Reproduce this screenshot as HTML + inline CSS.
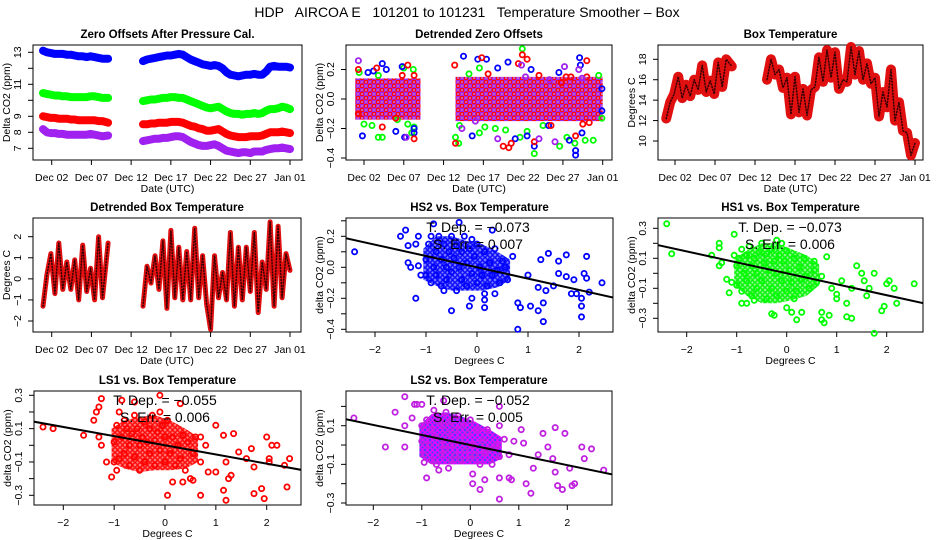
<!DOCTYPE html>
<html><head><meta charset="utf-8"><style>
html,body{margin:0;padding:0;background:#fff;}
svg{display:block;font-family:"Liberation Sans",Arial,sans-serif;}
</style></head><body>
<svg id="chart" width="936" height="540" viewBox="0 0 936 540" xmlns="http://www.w3.org/2000/svg">
<defs>
<pattern id="pat-mixed" width="8" height="8" patternUnits="userSpaceOnUse">
<rect width="8" height="8" fill="#d060c0"/>
<circle cx="2" cy="2" r="1.8" fill="none" stroke="#a020f0" stroke-width="1.3"/>
<circle cx="6" cy="2" r="1.8" fill="none" stroke="#ff0000" stroke-width="1.3"/>
<circle cx="2" cy="6" r="1.8" fill="none" stroke="#ff0000" stroke-width="1.3"/>
<circle cx="6" cy="6" r="1.8" fill="none" stroke="#a020f0" stroke-width="1.3"/>
</pattern>
<pattern id="pat-blue" width="5" height="5" patternUnits="userSpaceOnUse"><rect width="5" height="5" fill="#8080ff"/><circle cx="2.5" cy="2.5" r="1.8" fill="none" stroke="#0000ff" stroke-width="1.3"/></pattern>
<pattern id="pat-green" width="5" height="5" patternUnits="userSpaceOnUse"><rect width="5" height="5" fill="#90ff90"/><circle cx="2.5" cy="2.5" r="1.8" fill="none" stroke="#00ee00" stroke-width="1.3"/></pattern>
<pattern id="pat-red" width="5" height="5" patternUnits="userSpaceOnUse"><rect width="5" height="5" fill="#ff8080"/><circle cx="2.5" cy="2.5" r="1.8" fill="none" stroke="#ff0000" stroke-width="1.3"/></pattern>
<pattern id="pat-purple" width="5" height="5" patternUnits="userSpaceOnUse"><rect width="5" height="5" fill="#4040ff"/><circle cx="2.5" cy="2.5" r="1.8" fill="none" stroke="#ff00ff" stroke-width="1.3"/></pattern>
</defs>
<rect x="0" y="0" width="936" height="540" fill="#fff"/>
<text x="467" y="17" font-size="14" text-anchor="middle" xml:space="preserve">HDP   AIRCOA E   101201 to 101231   Temperature Smoother – Box</text>
</svg>
<script>
// ---------- DATA ----------
const seg1Days = [0.9,1.4,1.9,2.4,2.9,3.4,3.9,4.4,4.9,5.4,5.9,6.4,6.9,7.4,7.9,8.4,9.1];
const seg2Days = [13.5,14,14.5,15,15.5,16,16.5,17,17.5,18,18.5,19,19.5,20,20.5,21,21.5,22,22.5,23,23.5,24,24.5,25,25.5,26,26.5,27,27.5,28,28.5,29,29.5,30,30.5,31,31.5,32];
const blueSeg1 = [13.1,13.0,12.95,12.9,12.9,12.9,12.85,12.85,12.8,12.75,12.75,12.7,12.75,12.7,12.65,12.6,12.6];
const blueSeg2 = [12.45,12.55,12.6,12.65,12.7,12.75,12.8,12.8,12.85,12.9,12.85,12.7,12.55,12.45,12.35,12.25,12.2,12.15,12.2,12.15,12.0,11.75,11.6,11.55,11.5,11.55,11.6,11.6,11.65,11.6,11.6,11.8,12.1,12.15,12.1,12.1,12.1,12.05];
const greenSeg1 = [10.45,10.4,10.35,10.3,10.3,10.25,10.25,10.2,10.2,10.2,10.2,10.2,10.25,10.25,10.2,10.15,10.15];
const greenSeg2 = [9.95,10.0,10.05,10.05,10.1,10.15,10.15,10.2,10.2,10.15,10.15,10.05,9.95,9.85,9.75,9.65,9.55,9.5,9.55,9.6,9.45,9.3,9.2,9.15,9.15,9.1,9.15,9.15,9.2,9.15,9.2,9.35,9.45,9.45,9.5,9.6,9.55,9.45];
const redSeg1 = [9.0,8.95,8.9,8.9,8.85,8.85,8.85,8.8,8.8,8.75,8.75,8.75,8.75,8.75,8.7,8.7,8.6];
const redSeg2 = [8.5,8.5,8.55,8.55,8.6,8.6,8.6,8.65,8.65,8.65,8.6,8.5,8.4,8.35,8.25,8.2,8.1,8.1,8.15,8.2,8.05,7.9,7.8,7.75,7.7,7.7,7.7,7.75,7.75,7.75,7.8,7.9,8.0,8.0,8.0,8.05,8.0,7.95];
const purpleSeg1 = [8.2,8.0,7.95,7.95,7.9,7.9,7.85,7.85,7.85,7.85,7.85,7.85,7.9,7.85,7.8,7.75,7.8];
const purpleSeg2 = [7.45,7.5,7.55,7.6,7.6,7.65,7.65,7.7,7.75,7.75,7.7,7.55,7.4,7.3,7.2,7.15,7.15,7.2,7.25,7.15,7.0,6.85,6.8,6.75,6.7,6.75,6.75,6.7,6.8,6.8,6.8,6.9,6.95,7.0,7.0,7.05,7.0,6.95];

const bandDays = [0.9,9.1,null,13.5,32];
const bandHigh = [0.14,0.14,null,0.15,0.15];
const bandLow = [-0.14,-0.14,null,-0.15,-0.15];
const zdBlue = [[1.8,-0.25],[2.5,0.18],[3.2,0.19],[4.3,0.24],[4.8,0.2],[6.0,-0.22],[6.8,0.22],[7.1,-0.26],[8.3,-0.23],[8.3,-0.2],[14.5,0.29],[15.6,-0.25],[16.3,0.27],[17.4,0.27],[18.8,0.21],[20.1,0.25],[21.0,-0.27],[22.5,-0.25],[23.0,0.2],[23.4,-0.32],[25.2,-0.18],[26.5,0.18],[27.8,-0.28],[28.6,-0.38],[28.6,-0.35],[29.1,0.28],[29.2,0.23],[29.4,-0.23],[31.9,-0.08],[31.9,0.07]];
const zdGreen = [[1.4,0.18],[2.0,-0.17],[3.0,-0.18],[3.8,-0.26],[4.3,-0.26],[3.8,0.16],[6.2,-0.14],[7.0,0.21],[7.5,-0.17],[8.0,-0.23],[8.2,0.2],[8.3,-0.19],[13.5,-0.26],[13.9,-0.3],[14.0,-0.18],[15.2,0.17],[16.5,0.21],[16.5,-0.23],[17.2,-0.19],[18.5,-0.2],[19.8,-0.21],[21.6,-0.26],[21.9,0.34],[22.5,-0.22],[23.4,-0.37],[24.5,-0.18],[26.6,-0.32],[27.5,-0.26],[28.5,-0.3],[29.8,-0.28],[30.8,-0.28],[31.9,-0.13],[31.5,0.16]];
const zdRed = [[1.3,0.2],[1.3,-0.1],[3.6,0.21],[4.3,-0.19],[6.0,-0.13],[6.8,0.16],[7.5,0.23],[8.3,0.16],[8.3,-0.27],[13.4,0.23],[13.5,-0.3],[16.8,0.28],[17.6,0.17],[19.5,-0.32],[20.2,-0.33],[20.5,-0.3],[21.4,0.24],[21.9,0.3],[22.5,0.27],[23.4,-0.29],[24.0,0.16],[25.5,-0.18],[26.8,0.11],[27.4,0.15],[28.0,0.15],[28.6,-0.25],[29.5,-0.17],[30.0,0.26],[30.0,0.15],[30.3,-0.16]];
const zdPurple = [[1.3,0.26],[7.3,-0.26],[14.3,-0.2],[16.0,-0.15],[18.8,-0.27],[21.8,0.23],[24.0,-0.27],[26.0,-0.29],[27.2,0.22],[29.0,0.2],[29.4,0.14],[25.3,0.13],[22.3,0.15]];

const boxTSeg1 = [12.2,13.8,14.6,16.3,14.2,15.5,14.4,16.0,15.0,17.4,14.8,15.9,14.6,17.7,15.3,18.0,17.3];
const boxTSeg2 = [16.0,18.0,16.5,17.0,15.2,16.2,12.6,16.3,12.8,15.1,12.5,15.0,15.3,18.2,15.8,18.9,16.2,18.7,15.1,16.0,15.8,19.2,16.5,18.8,16.0,17.6,15.6,16.2,12.4,14.8,13.3,17.0,12.0,13.8,11.0,10.8,8.6,9.8];
const dtSeg1 = [-1.3,0.2,1.2,-0.7,1.7,-0.5,0.8,-0.5,0.9,-1.0,1.6,-0.6,0.5,-1.0,2.0,-0.9,1.7];
const dtSeg2 = [-1.3,0.6,-0.2,1.1,-0.5,1.8,-1.4,2.3,-0.9,1.5,-1.0,1.3,-1.0,2.4,-0.9,1.1,-1.2,-2.4,1.1,-0.9,0.3,-1.0,2.2,-1.3,1.5,-1.0,1.5,-0.6,2.2,-1.6,0.8,-0.5,2.7,-1.3,2.5,-0.9,1.2,0.4];

const hs2Pts = [[-2.4,0.1],[-1.5,0.2],[-1.4,0.24],[-1.35,0.14],[-1.35,0.03],[-1.3,0.0],[-1.2,-0.2],[-1.15,0.01],[-1.1,-0.05],[-1.15,0.2],[-1.2,0.15],[-0.5,-0.28],[-0.15,-0.25],[-0.1,-0.2],[0.15,-0.26],[0.15,-0.21],[0.35,-0.17],[0.8,-0.4],[0.85,-0.26],[0.8,-0.23],[1.05,-0.25],[1.2,-0.28],[1.3,-0.35],[1.3,-0.23],[1.4,0.09],[1.6,0.04],[1.75,0.08],[1.75,-0.06],[1.6,-0.04],[1.9,-0.08],[1.85,-0.17],[1.95,-0.17],[2.05,-0.25],[2.05,-0.32],[2.05,-0.2],[2.1,-0.04],[2.15,-0.07],[2.15,0.07],[2.2,-0.16],[2.45,-0.1],[1.0,-0.05],[1.2,-0.13],[1.25,0.05],[0.7,0.07],[0.5,0.04],[1.35,-0.15],[1.5,-0.12],[-0.35,0.29],[-0.85,0.28],[0.3,0.24],
[-1,0.05],[-1,-0.05],[-0.95,0.15],[-0.9,-0.1],[-0.85,0.0],[-0.8,0.1],[-0.8,-0.05],[-0.75,0.2],[-0.7,0.05],[-0.7,-0.12],[-0.65,0.15],[-0.6,0.0],[-0.6,-0.08],[-0.55,0.1],[-0.5,0.2],[-0.5,-0.03],[-0.45,0.06],[-0.4,-0.15],[-0.4,0.14],[-0.35,0.0],[-0.3,-0.08],[-0.3,0.1],[-0.25,0.2],[-0.2,0.03],[-0.2,-0.12],[-0.15,0.12],[-0.1,-0.04],[-0.05,0.07],[0,-0.1],[0,0.15],[0.05,0.0],[0.1,-0.05],[0.15,0.1],[0.2,-0.12],[0.25,0.03],[0.3,-0.05],[0.35,0.12],[0.4,-0.02],[0.45,-0.1],[0.55,0.0],[0.6,-0.08],[-0.9,0.2],[-0.65,-0.15],[-0.1,0.18],[0.15,-0.17]];
const hs1Pts = [[-2.4,0.33],[-2.3,0.13],[-1.5,0.12],[-1.35,0.2],[-1.35,0.17],[-1.3,0.07],[-1.35,0.05],[-1.2,-0.04],[-1.15,-0.13],[-1.1,-0.06],[-1.05,0.26],[-1.05,0.12],[-0.9,-0.2],[-0.8,-0.2],[-0.3,-0.27],[-0.25,-0.28],[0.0,-0.23],[0.1,-0.26],[0.2,-0.31],[0.3,-0.26],[0.7,-0.31],[0.75,-0.33],[0.7,-0.26],[0.85,-0.28],[1.2,-0.29],[1.3,-0.3],[1.0,-0.17],[1.2,-0.2],[1.4,0.05],[1.5,0.0],[1.55,-0.05],[1.75,0.0],[1.75,-0.4],[1.9,-0.25],[1.95,-0.22],[2.0,-0.07],[2.05,-0.05],[2.15,-0.1],[2.2,-0.2],[2.55,-0.07],[1.65,-0.1],[1.3,-0.1],[0.9,-0.1],[0.8,0.11],[0.55,0.08],[1.1,-0.05],[1.0,-0.14],[1.6,-0.15],
[-1,0.05],[-1,-0.08],[-0.95,0.1],[-0.9,-0.12],[-0.85,0.0],[-0.8,0.12],[-0.8,-0.05],[-0.75,0.18],[-0.7,0.05],[-0.7,-0.15],[-0.65,0.1],[-0.6,0.0],[-0.6,-0.1],[-0.55,0.14],[-0.5,0.2],[-0.5,-0.05],[-0.45,0.07],[-0.4,-0.17],[-0.4,0.13],[-0.35,0.02],[-0.3,-0.1],[-0.3,0.16],[-0.25,0.08],[-0.2,0.0],[-0.2,-0.15],[-0.15,0.12],[-0.1,-0.05],[-0.05,0.08],[0,-0.12],[0,0.15],[0.05,0.02],[0.1,-0.06],[0.15,0.1],[0.2,-0.12],[0.25,0.04],[0.3,-0.04],[0.35,0.1],[0.4,-0.02],[0.45,-0.1],[0.55,0.02],[0.6,-0.06],[-0.9,0.16],[-0.65,-0.18],[-0.1,0.2],[0.15,-0.17],[0.7,-0.02],[-0.2,0.22]];
const ls1Pts = [[-2.4,0.11],[-2.2,0.1],[-1.6,0.06],[-1.4,0.15],[-1.35,0.2],[-1.3,0.23],[-1.25,0.28],[-1.3,0.05],[-1.25,0.0],[-1.15,-0.1],[-1.05,-0.19],[-0.95,-0.15],[-0.85,0.27],[-0.6,0.26],[-0.1,0.3],[0.05,-0.3],[0.15,-0.22],[0.35,-0.22],[0.55,-0.21],[0.7,-0.3],[1.0,-0.16],[1.15,-0.27],[1.2,-0.33],[1.25,-0.2],[1.3,-0.18],[1.0,0.12],[1.15,0.06],[1.35,0.07],[1.45,-0.04],[1.7,-0.02],[1.75,-0.13],[1.75,-0.29],[1.9,-0.26],[1.95,-0.32],[2.0,0.05],[2.05,-0.08],[2.05,-0.1],[2.1,0.0],[2.2,0.0],[2.35,-0.12],[2.45,-0.08],[2.4,-0.25],[1.6,-0.08],[1.2,-0.1],[0.85,-0.16],[0.7,0.05],[0.3,0.25],
[-1,0.02],[-1,-0.1],[-0.95,0.12],[-0.9,-0.08],[-0.85,0.05],[-0.8,0.15],[-0.8,-0.05],[-0.75,0.1],[-0.7,0.0],[-0.7,-0.12],[-0.65,0.07],[-0.6,0.18],[-0.6,-0.07],[-0.55,0.1],[-0.5,0.0],[-0.5,-0.15],[-0.45,0.05],[-0.4,-0.1],[-0.4,0.14],[-0.35,0.02],[-0.3,-0.05],[-0.3,0.1],[-0.25,0.18],[-0.2,0.03],[-0.2,-0.12],[-0.15,0.08],[-0.1,-0.03],[-0.05,0.12],[0,-0.1],[0,0.05],[0.05,0.15],[0.1,-0.05],[0.15,0.05],[0.2,-0.12],[0.25,0.0],[0.3,-0.08],[0.35,0.06],[0.4,-0.15],[0.45,0.02],[0.55,-0.05],[0.6,0.05],[0.7,-0.1],[0.8,0.0],[-0.9,0.2],[-0.1,0.2],[0.5,-0.2]];
const ls2Pts = [[-2.4,0.14],[-1.75,-0.01],[-1.55,0.17],[-1.35,0.25],[-1.35,0.1],[-1.35,-0.01],[-1.2,0.14],[-1.15,0.21],[-1.1,0.21],[-1.0,0.21],[-0.95,-0.09],[-0.9,-0.17],[-0.65,-0.13],[-0.45,-0.12],[0.05,-0.15],[0.05,-0.2],[0.2,-0.23],[0.3,-0.18],[0.6,-0.17],[0.6,-0.28],[0.8,-0.17],[0.85,-0.18],[1.15,-0.2],[1.25,-0.25],[1.3,-0.12],[1.5,0.06],[1.6,-0.01],[1.75,0.09],[1.7,-0.07],[1.75,-0.14],[1.8,-0.21],[1.9,-0.23],[1.95,0.06],[2.05,-0.12],[2.1,-0.21],[2.15,-0.2],[2.3,-0.01],[2.35,-0.07],[2.5,-0.02],[2.75,-0.13],[1.05,0.08],[1.1,0.01],[1.4,-0.05],[0.6,0.1],[0.6,0.2],[-0.55,0.23],
[-1,0.02],[-1,0.1],[-0.95,-0.05],[-0.9,0.13],[-0.85,0.0],[-0.8,0.08],[-0.8,-0.08],[-0.75,0.18],[-0.7,0.04],[-0.7,-0.1],[-0.65,0.12],[-0.6,0.0],[-0.6,-0.05],[-0.55,0.1],[-0.5,0.17],[-0.5,-0.02],[-0.45,0.06],[-0.4,-0.08],[-0.4,0.12],[-0.35,0.0],[-0.3,-0.05],[-0.3,0.08],[-0.25,0.15],[-0.2,0.03],[-0.2,-0.08],[-0.15,0.1],[-0.1,-0.03],[-0.05,0.06],[0,-0.07],[0,0.13],[0.05,0.0],[0.1,-0.05],[0.15,0.08],[0.2,-0.1],[0.25,0.02],[0.3,-0.04],[0.35,0.08],[0.4,-0.02],[0.45,-0.1],[0.55,0.0],[0.6,-0.06],[0.7,0.03],[0.8,-0.05],[0.9,0.02]];

const coreX = [-1.05,-0.8,-0.5,-0.2,0.1,0.4,0.65];
const hs2CoreHi = [0.12,0.2,0.2,0.17,0.15,0.1,0.05];
const hs2CoreLo = [-0.08,-0.12,-0.15,-0.15,-0.15,-0.13,-0.08];
const hs1CoreHi = [0.1,0.15,0.2,0.2,0.16,0.12,0.06];
const hs1CoreLo = [-0.08,-0.15,-0.2,-0.2,-0.18,-0.15,-0.08];
const ls1CoreHi = [0.1,0.15,0.17,0.18,0.15,0.1,0.05];
const ls1CoreLo = [-0.1,-0.14,-0.16,-0.15,-0.15,-0.14,-0.1];
const ls2CoreHi = [0.1,0.16,0.17,0.15,0.12,0.08,0.04];
const ls2CoreLo = [-0.06,-0.1,-0.1,-0.1,-0.1,-0.1,-0.07];

const tDep = [-0.073,-0.073,-0.055,-0.052];
const sErr = ["0.007","0.006","0.006","0.005"];
const tDepLabels = ["−0.073","−0.073","−0.055","−0.052"];
const dateTickDays = [2,7,12,17,22,27,32];
const dateTickLabels = ["Dec 02","Dec 07","Dec 12","Dec 17","Dec 22","Dec 27","Jan 01"];

// ---------- HELPERS ----------
const NS = "http://www.w3.org/2000/svg";
const svg = document.getElementById('chart');
function mk(tag, parent){ const e = document.createElementNS(NS, tag); (parent||svg).appendChild(e); return e; }
function lin(d0,d1,r0,r1){ return v => r0 + (v-d0)*(r1-r0)/(d1-d0); }

function makeAxes(p){
  const g = mk('g');
  
  
  const box = mk('rect', g);
  
  
  box.setAttribute('x', p.l); box.setAttribute('y', p.t);
  box.setAttribute('width', p.r-p.l); box.setAttribute('height', p.b-p.t);
  box.setAttribute('fill', 'none'); box.setAttribute('stroke', '#000'); box.setAttribute('stroke-width', '1');
  const title = mk('text', g);
  
  
  title.setAttribute('x', (p.l+p.r)/2); title.setAttribute('y', p.t-7);
  title.setAttribute('font-size', '11.5'); title.setAttribute('font-weight', 'bold'); title.setAttribute('text-anchor', 'middle');
  title.textContent = p.title;
  p.xt.forEach((v,i) => {
    const x = p.sx(v);
    const tk = mk('line', g);
    
    
    tk.setAttribute('x1', x); tk.setAttribute('x2', x); tk.setAttribute('y1', p.b); tk.setAttribute('y2', p.b+5);
    tk.setAttribute('stroke', '#000');
    const tl = mk('text', g);
    
    
    tl.setAttribute('x', x); tl.setAttribute('y', p.b+21);
    tl.setAttribute('font-size', '10.5'); tl.setAttribute('text-anchor', 'middle');
    tl.textContent = p.xl[i];
  });
  p.yt.forEach((v,i) => {
    const y = p.sy(v);
    const tk = mk('line', g);
    
    
    tk.setAttribute('x1', p.l); tk.setAttribute('x2', p.l-5); tk.setAttribute('y1', y); tk.setAttribute('y2', y);
    tk.setAttribute('stroke', '#000');
    if (p.yl[i] !== '') {
      const tl = mk('text', g);
      
      
      tl.setAttribute('transform', 'translate(' + (p.l-12) + ',' + y + ') rotate(-90)');
      tl.setAttribute('font-size', '10.5'); tl.setAttribute('text-anchor', 'middle');
      tl.textContent = p.yl[i];
    }
  });
  const xt = mk('text', g);
  
  
  xt.setAttribute('x', (p.l+p.r)/2); xt.setAttribute('y', p.b+32);
  xt.setAttribute('font-size', '10.5'); xt.setAttribute('text-anchor', 'middle');
  xt.textContent = p.xtitle;
  const yt = mk('text', g);
  
  
  yt.setAttribute('transform', 'translate(' + (p.l-23) + ',' + ((p.t+p.b)/2) + ') rotate(-90)');
  yt.setAttribute('font-size', '10.5'); yt.setAttribute('text-anchor', 'middle');
  yt.textContent = p.ytitle;
  const cp = mk('clipPath', g);
  cp.setAttribute('id', 'clip-' + p.name);
  const cr = mk('rect', cp);
  cr.setAttribute('x', p.l); cr.setAttribute('y', p.t); cr.setAttribute('width', p.r-p.l); cr.setAttribute('height', p.b-p.t);
  return g;
}

function bandLine(g, p, days, vals, color, width, dash, name){
  const pts = days.map((d,i) => p.sx(d).toFixed(1) + ',' + p.sy(vals[i]).toFixed(1)).join(' ');
  const pl = mk('polyline', g);
  
  
  pl.setAttribute('points', pts);
  pl.setAttribute('fill', 'none'); pl.setAttribute('stroke', color); pl.setAttribute('stroke-width', width);
  pl.setAttribute('stroke-linejoin', 'round'); pl.setAttribute('stroke-linecap', 'round');
  if (dash) pl.setAttribute('stroke-dasharray', dash);
}

function scatter(g, p, pts, color, name){
  pts.forEach(pt => {
    const c = mk('circle', g);
    
    
    c.setAttribute('cx', p.sx(pt[0]).toFixed(1)); c.setAttribute('cy', p.sy(pt[1]).toFixed(1));
    c.setAttribute('r', '2.6'); c.setAttribute('fill', 'none'); c.setAttribute('stroke', color); c.setAttribute('stroke-width', '1.8');
  });
}

const dateX = {xt: dateTickDays, xl: dateTickLabels, xtitle: 'Date (UTC)'};
const sxTicks = [-2,-1,0,1,2];
const sxLabels = ['−2','−1','0','1','2'];

// ---------- PANEL 1 ----------
const p1 = Object.assign({name:'zero-offsets', title:'Zero Offsets After Pressure Cal.', l:33,t:45,r:302,b:160,
  sx: lin(2,32,51.7,290), sy: lin(7,13,148.3,52.3), yt:[7,8,9,10,11,12,13], yl:['7','8','9','','11','','13'], ytitle:'Delta CO2 (ppm)'}, dateX);
const g1 = makeAxes(p1);
[[blueSeg1,blueSeg2,'#0000ff','blue-series'],[greenSeg1,greenSeg2,'#00ff00','green-series'],[redSeg1,redSeg2,'#ff0000','red-series'],[purpleSeg1,purpleSeg2,'#a020f0','purple-series']].forEach(s => {
  bandLine(g1, p1, seg1Days, s[0], s[2], 8, null, s[3]);
  bandLine(g1, p1, seg2Days, s[1], s[2], 8, null, s[3]);
});

// ---------- PANEL 2 ----------
const p2 = Object.assign({name:'detrended-zero-offsets', title:'Detrended Zero Offsets', l:346,t:45,r:612,b:160,
  sx: lin(2,32,364,602.7), sy: lin(0,0.2,99,69.5), yt:[-0.4,-0.2,0,0.2], yl:['−0.4','−0.2','0.0','0.2'], ytitle:'Delta CO2 (ppm)'}, dateX);
const g2 = makeAxes(p2);
[[0,1],[3,4]].forEach(r => {
  const poly = mk('polygon', g2);
  
  
  const top = [r[0],r[1]].map(i => p2.sx(bandDays[i]) + ',' + p2.sy(bandHigh[i]));
  const bot = [r[1],r[0]].map(i => p2.sx(bandDays[i]) + ',' + p2.sy(bandLow[i]));
  poly.setAttribute('points', top.concat(bot).join(' '));
  poly.setAttribute('fill', 'url(#pat-mixed)');
});
scatter(g2, p2, zdGreen, '#00ff00', 'green-offset-point');
scatter(g2, p2, zdBlue, '#0000ff', 'blue-offset-point');
scatter(g2, p2, zdRed, '#ff0000', 'red-offset-point');
scatter(g2, p2, zdPurple, '#a020f0', 'purple-offset-point');

// ---------- PANEL 3 ----------
const p3 = Object.assign({name:'box-temperature', title:'Box Temperature', l:658,t:45,r:923,b:160,
  sx: lin(2,32,675,915), sy: lin(10,18,141,59.3), yt:[10,12,14,16,18], yl:['10','12','14','16','18'], ytitle:'Degrees C'}, dateX);
const g3 = makeAxes(p3);
bandLine(g3, p3, seg1Days, boxTSeg1, '#e01010', 10, null, 'box-temp-series');
bandLine(g3, p3, seg2Days, boxTSeg2, '#e01010', 10, null, 'box-temp-series');
bandLine(g3, p3, seg1Days, boxTSeg1, '#300', 1.5, '1 2', 'box-temp-series-dots');
bandLine(g3, p3, seg2Days, boxTSeg2, '#300', 1.5, '1 2', 'box-temp-series-dots');

// ---------- PANEL 4 ----------
const p4 = Object.assign({name:'detrended-box-temperature', title:'Detrended Box Temperature', l:33,t:218,r:301,b:332,
  sx: lin(2,32,51.7,290), sy: lin(-2,2,321,236.7), yt:[-2,-1,0,1,2], yl:['−2','−1','0','1','2'], ytitle:'Degrees C'}, dateX);
const g4 = makeAxes(p4);
bandLine(g4, p4, seg1Days, dtSeg1, '#e01010', 5, null, 'detrended-temp-series');
bandLine(g4, p4, seg2Days, dtSeg2, '#e01010', 5, null, 'detrended-temp-series');
bandLine(g4, p4, seg1Days, dtSeg1, '#300', 1.5, '1 2', 'detrended-temp-dots');
bandLine(g4, p4, seg2Days, dtSeg2, '#300', 1.5, '1 2', 'detrended-temp-dots');

// ---------- SCATTER PANELS ----------
const scat = [
  {name:'hs2-vs-temp', title:'HS2 vs. Box Temperature', l:346,t:218,r:613,b:332, sx: lin(-2,2,375,579), sy: lin(0,0.2,267.3,236.3),
   yt:[-0.4,-0.3,-0.2,-0.1,0,0.1,0.2,0.3], yl:['−0.4','','−0.2','','0.0','','0.2',''], pts:hs2Pts, hi:hs2CoreHi, lo:hs2CoreLo, pat:'pat-blue', color:'#0000ff', tx:478, ty:232},
  {name:'hs1-vs-temp', title:'HS1 vs. Box Temperature', l:658,t:218,r:923,b:332, sx: lin(-2,2,686.7,886.7), sy: lin(-0.3,0.3,318.3,228.3),
   yt:[-0.3,-0.2,-0.1,0,0.1,0.2,0.3], yl:['−0.3','','−0.1','','0.1','','0.3'], pts:hs1Pts, hi:hs1CoreHi, lo:hs1CoreLo, pat:'pat-green', color:'#00ff00', tx:790, ty:232},
  {name:'ls1-vs-temp', title:'LS1 vs. Box Temperature', l:34,t:391,r:301,b:505, sx: lin(-2,2,63.3,266.7), sy: lin(-0.3,0.3,495.3,395.3),
   yt:[-0.3,-0.2,-0.1,0,0.1,0.2,0.3], yl:['−0.3','','−0.1','','0.1','','0.3'], pts:ls1Pts, hi:ls1CoreHi, lo:ls1CoreLo, pat:'pat-red', color:'#ff0000', tx:165, ty:405},
  {name:'ls2-vs-temp', title:'LS2 vs. Box Temperature', l:346,t:391,r:612,b:505, sx: lin(-2,2,373.3,567.3), sy: lin(-0.3,0.1,503,425.7),
   yt:[-0.3,-0.2,-0.1,0,0.1,0.2], yl:['−0.3','','−0.1','','0.1',''], pts:ls2Pts, hi:ls2CoreHi, lo:ls2CoreLo, pat:'pat-purple', color:'#c020e0', tx:478, ty:405}
];
scat.forEach((s,k) => {
  const p = Object.assign({xt:sxTicks, xl:sxLabels, xtitle:'Degrees C', ytitle:'delta CO2 (ppm)'}, s);
  const g = makeAxes(p);
  const core = mk('polygon', g);
  
  
  const top = coreX.map((x,i) => p.sx(x).toFixed(1) + ',' + p.sy(s.hi[i]).toFixed(1));
  const bot = coreX.map((x,i) => p.sx(x).toFixed(1) + ',' + p.sy(s.lo[i]).toFixed(1)).reverse();
  core.setAttribute('points', top.concat(bot).join(' '));
  core.setAttribute('fill', 'url(#' + s.pat + ')');
  scatter(g, p, s.pts, s.color, s.name + '-point');
  const x0 = -3, x1 = 3;
  const ln = mk('line', g);
  
  
  ln.setAttribute('x1', p.sx(x0)); ln.setAttribute('y1', p.sy(tDep[k]*x0));
  ln.setAttribute('x2', p.sx(x1)); ln.setAttribute('y2', p.sy(tDep[k]*x1));
  ln.setAttribute('stroke', '#000'); ln.setAttribute('stroke-width', '2');
  ln.setAttribute('clip-path', 'url(#clip-' + s.name + ')');
  const t1 = mk('text', g);
  
  
  t1.setAttribute('x', s.tx); t1.setAttribute('y', s.ty);
  t1.setAttribute('font-size', '14'); t1.setAttribute('text-anchor', 'middle');
  t1.setAttribute('xml:space', 'preserve');
  t1.textContent = 'T. Dep. =  ' + tDepLabels[k];
  const t2 = mk('text', g);
  
  
  t2.setAttribute('x', s.tx); t2.setAttribute('y', s.ty+17);
  t2.setAttribute('font-size', '14'); t2.setAttribute('text-anchor', 'middle');
  t2.textContent = 'S. Err. =  ' + sErr[k];
});
</script>
</body></html>
